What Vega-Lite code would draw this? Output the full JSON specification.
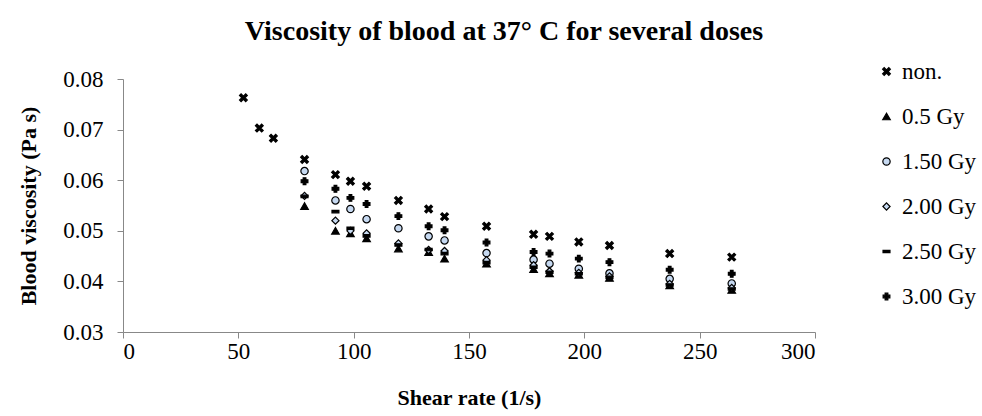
{
  "$schema": "https://vega.github.io/schema/vega-lite/v6.json",
  "width": 692,
  "height": 253,
  "autosize": {"type": "none"},
  "padding": {"left": 123, "top": 79, "right": 167, "bottom": 84},
  "background": "white",
  "title": {
    "text": "Viscosity of blood at 37° C for several doses",
    "font": "Liberation Serif",
    "fontSize": 28,
    "fontWeight": "bold",
    "color": "black",
    "anchor": "middle",
    "frame": "group",
    "dx": 35,
    "offset": 14
  },
  "data": {
    "values": [
      {"x": 52.2, "v": 0.0763, "s": "non."},
      {"x": 59.1, "v": 0.0703, "s": "non."},
      {"x": 65.2, "v": 0.0683, "s": "non."},
      {"x": 78.7, "v": 0.0641, "s": "non."},
      {"x": 92.1, "v": 0.0611, "s": "non."},
      {"x": 98.6, "v": 0.0598, "s": "non."},
      {"x": 105.6, "v": 0.0588, "s": "non."},
      {"x": 119.4, "v": 0.0560, "s": "non."},
      {"x": 132.5, "v": 0.0543, "s": "non."},
      {"x": 139.4, "v": 0.0528, "s": "non."},
      {"x": 157.6, "v": 0.0509, "s": "non."},
      {"x": 178.0, "v": 0.0493, "s": "non."},
      {"x": 184.9, "v": 0.0489, "s": "non."},
      {"x": 197.6, "v": 0.0478, "s": "non."},
      {"x": 210.9, "v": 0.0471, "s": "non."},
      {"x": 237.0, "v": 0.0455, "s": "non."},
      {"x": 263.9, "v": 0.0448, "s": "non."},

      {"x": 78.7, "v": 0.0549, "s": "0.5 Gy"},
      {"x": 92.1, "v": 0.0500, "s": "0.5 Gy"},
      {"x": 98.6, "v": 0.0495, "s": "0.5 Gy"},
      {"x": 105.6, "v": 0.0485, "s": "0.5 Gy"},
      {"x": 119.4, "v": 0.0465, "s": "0.5 Gy"},
      {"x": 132.5, "v": 0.0458, "s": "0.5 Gy"},
      {"x": 139.4, "v": 0.0445, "s": "0.5 Gy"},
      {"x": 157.6, "v": 0.0435, "s": "0.5 Gy"},
      {"x": 178.0, "v": 0.0424, "s": "0.5 Gy"},
      {"x": 184.9, "v": 0.0416, "s": "0.5 Gy"},
      {"x": 197.6, "v": 0.0413, "s": "0.5 Gy"},
      {"x": 210.9, "v": 0.0407, "s": "0.5 Gy"},
      {"x": 237.0, "v": 0.0392, "s": "0.5 Gy"},
      {"x": 263.9, "v": 0.0383, "s": "0.5 Gy"},

      {"x": 78.7, "v": 0.0618, "s": "1.50 Gy"},
      {"x": 92.1, "v": 0.0560, "s": "1.50 Gy"},
      {"x": 98.6, "v": 0.0543, "s": "1.50 Gy"},
      {"x": 105.6, "v": 0.0523, "s": "1.50 Gy"},
      {"x": 119.4, "v": 0.0505, "s": "1.50 Gy"},
      {"x": 132.5, "v": 0.0489, "s": "1.50 Gy"},
      {"x": 139.4, "v": 0.0481, "s": "1.50 Gy"},
      {"x": 157.6, "v": 0.0456, "s": "1.50 Gy"},
      {"x": 178.0, "v": 0.0443, "s": "1.50 Gy"},
      {"x": 184.9, "v": 0.0435, "s": "1.50 Gy"},
      {"x": 197.6, "v": 0.0425, "s": "1.50 Gy"},
      {"x": 210.9, "v": 0.0416, "s": "1.50 Gy"},
      {"x": 237.0, "v": 0.0405, "s": "1.50 Gy"},
      {"x": 263.9, "v": 0.0396, "s": "1.50 Gy"},

      {"x": 78.7, "v": 0.0569, "s": "2.00 Gy"},
      {"x": 92.1, "v": 0.0520, "s": "2.00 Gy"},
      {"x": 98.6, "v": 0.0500, "s": "2.00 Gy"},
      {"x": 105.6, "v": 0.0495, "s": "2.00 Gy"},
      {"x": 119.4, "v": 0.0475, "s": "2.00 Gy"},
      {"x": 132.5, "v": 0.0462, "s": "2.00 Gy"},
      {"x": 139.4, "v": 0.0460, "s": "2.00 Gy"},
      {"x": 157.6, "v": 0.0442, "s": "2.00 Gy"},
      {"x": 178.0, "v": 0.0432, "s": "2.00 Gy"},
      {"x": 184.9, "v": 0.0420, "s": "2.00 Gy"},
      {"x": 197.6, "v": 0.0417, "s": "2.00 Gy"},
      {"x": 210.9, "v": 0.0410, "s": "2.00 Gy"},
      {"x": 237.0, "v": 0.0395, "s": "2.00 Gy"},
      {"x": 263.9, "v": 0.0387, "s": "2.00 Gy"},

      {"x": 78.7, "v": 0.0568, "s": "2.50 Gy"},
      {"x": 92.1, "v": 0.0538, "s": "2.50 Gy"},
      {"x": 98.6, "v": 0.0505, "s": "2.50 Gy"},
      {"x": 105.6, "v": 0.0490, "s": "2.50 Gy"},
      {"x": 119.4, "v": 0.0472, "s": "2.50 Gy"},
      {"x": 132.5, "v": 0.0463, "s": "2.50 Gy"},
      {"x": 139.4, "v": 0.0455, "s": "2.50 Gy"},
      {"x": 157.6, "v": 0.0437, "s": "2.50 Gy"},
      {"x": 178.0, "v": 0.0428, "s": "2.50 Gy"},
      {"x": 184.9, "v": 0.0418, "s": "2.50 Gy"},
      {"x": 197.6, "v": 0.0415, "s": "2.50 Gy"},
      {"x": 210.9, "v": 0.0408, "s": "2.50 Gy"},
      {"x": 237.0, "v": 0.0393, "s": "2.50 Gy"},
      {"x": 263.9, "v": 0.0385, "s": "2.50 Gy"},

      {"x": 78.7, "v": 0.0598, "s": "3.00 Gy"},
      {"x": 92.1, "v": 0.0583, "s": "3.00 Gy"},
      {"x": 98.6, "v": 0.0565, "s": "3.00 Gy"},
      {"x": 105.6, "v": 0.0553, "s": "3.00 Gy"},
      {"x": 119.4, "v": 0.0529, "s": "3.00 Gy"},
      {"x": 132.5, "v": 0.0509, "s": "3.00 Gy"},
      {"x": 139.4, "v": 0.0501, "s": "3.00 Gy"},
      {"x": 157.6, "v": 0.0477, "s": "3.00 Gy"},
      {"x": 178.0, "v": 0.0458, "s": "3.00 Gy"},
      {"x": 184.9, "v": 0.0455, "s": "3.00 Gy"},
      {"x": 197.6, "v": 0.0445, "s": "3.00 Gy"},
      {"x": 210.9, "v": 0.0438, "s": "3.00 Gy"},
      {"x": 237.0, "v": 0.0423, "s": "3.00 Gy"},
      {"x": 263.9, "v": 0.0415, "s": "3.00 Gy"}
    ]
  },
  "mark": {"type": "point", "filled": true, "strokeWidth": 1.2, "opacity": 1},
  "encoding": {
    "x": {
      "field": "x", "type": "quantitative",
      "scale": {"domain": [0, 300], "nice": false, "zero": true},
      "axis": {"values": [0, 50, 100, 150, 200, 250, 300], "title": "Shear rate (1/s)", "titlePadding": 24}
    },
    "y": {
      "field": "v", "type": "quantitative",
      "scale": {"domain": [0.03, 0.08], "nice": false, "zero": false},
      "axis": {"values": [0.03, 0.04, 0.05, 0.06, 0.07, 0.08], "format": ".2f", "title": "Blood viscosity (Pa s)", "labelPadding": 14, "titlePadding": 22}
    },
    "shape": {
      "field": "s", "type": "nominal",
      "scale": {
        "domain": ["non.", "0.5 Gy", "1.50 Gy", "2.00 Gy", "2.50 Gy", "3.00 Gy"],
        "range": [
          "M-1,-0.6L-0.6,-1L0,-0.4L0.6,-1L1,-0.6L0.4,0L1,0.6L0.6,1L0,0.4L-0.6,1L-1,0.6L-0.4,0Z",
          "triangle-up",
          "circle",
          "diamond",
          "M-1,-0.35L1,-0.35L1,0.35L-1,0.35Z",
          "cross"
        ]
      },
      "legend": {"title": null}
    },
    "fill": {
      "field": "s", "type": "nominal",
      "scale": {
        "domain": ["non.", "0.5 Gy", "1.50 Gy", "2.00 Gy", "2.50 Gy", "3.00 Gy"],
        "range": ["black", "black", "#c6d9f1", "#c6d9f1", "black", "black"]
      },
      "legend": {"title": null}
    },
    "stroke": {
      "field": "s", "type": "nominal",
      "scale": {
        "domain": ["non.", "0.5 Gy", "1.50 Gy", "2.00 Gy", "2.50 Gy", "3.00 Gy"],
        "range": ["black", "black", "black", "black", "black", "black"]
      },
      "legend": {"title": null}
    },
    "size": {
      "field": "s", "type": "nominal",
      "scale": {
        "domain": ["non.", "0.5 Gy", "1.50 Gy", "2.00 Gy", "2.50 Gy", "3.00 Gy"],
        "range": [60, 45, 45, 40, 50, 85]
      },
      "legend": {"title": null}
    }
  },
  "config": {
    "view": {"stroke": null},
    "axis": {
      "domainColor": "#888888",
      "tickColor": "#888888",
      "tickSize": 6,
      "grid": false,
      "labelFont": "Liberation Serif",
      "labelFontSize": 23,
      "labelColor": "black",
      "titleFont": "Liberation Serif",
      "titleFontSize": 22,
      "titleFontWeight": "bold",
      "titleColor": "black"
    },
    "legend": {
      "orient": "none",
      "legendX": 752,
      "legendY": -19,
      "labelFont": "Liberation Serif",
      "labelFontSize": 23,
      "labelColor": "black",
      "rowPadding": 21,
      "labelOffset": 4,
      "symbolStrokeWidth": 1.2
    }
  }
}
